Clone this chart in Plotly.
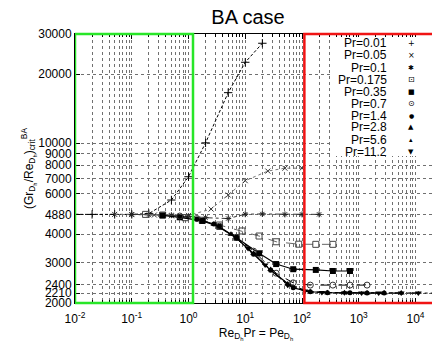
import plotly.graph_objects as go
import math

# ---------------- data ----------------
pr_labels = ["Pr=0.01", "Pr=0.05", "Pr=0.1", "Pr=0.175", "Pr=0.35",
             "Pr=0.7", "Pr=1.4", "Pr=2.8", "Pr=5.6", "Pr=11.2"]

pe_001 = [0.01, 0.02, 0.05, 0.1, 0.2, 0.5, 1, 2, 5, 10, 20]
g_001 = [4880, 4880, 4880, 4880, 4920, 5640, 7130, 10030, 16620, 22570, 27330]

pe_005 = [0.05, 0.1, 0.25, 0.5, 1, 2.5, 5, 10, 25, 50, 100]
g_005 = [4880, 4870, 4850, 4810, 4830, 5150, 5930, 6850, 7550, 7770, 7770]

pe_01 = [0.1, 0.2, 0.5, 1, 2, 5, 10, 20, 50, 100, 200]
g_01 = [4880, 4870, 4840, 4790, 4720, 4680, 4890, 4900, 4880, 4880, 4880]

pe_0175 = [0.175, 0.35, 0.875, 1.75, 3.5, 8.75, 17.5, 35, 87.5, 175, 350]
g_0175 = [4880, 4850, 4720, 4600, 4385, 4130, 3925, 3705, 3615, 3610, 3610]

pe_035 = [0.35, 0.7, 1.75, 3.5, 7, 17.5, 35, 70, 175, 350, 700]
g_035 = [4830, 4740, 4570, 4310, 3860, 3300, 2960, 2810, 2790, 2760, 2760]

pe_07 = [0.7, 1.4, 3.5, 7, 14, 35, 70, 140, 350, 700, 1400]
g_07 = [4800, 4680, 4330, 3880, 3370, 2700, 2450, 2395, 2395, 2395, 2395]

pe_14 = [1.4, 2.8, 7, 14, 28, 70, 140, 280, 700, 1400, 2800]
g_14 = [4660, 4430, 3850, 3270, 2780, 2330, 2240, 2220, 2215, 2212, 2210]

pe_28 = [2.8, 5.6, 14, 28, 56, 140, 280, 560, 1400, 2800, 5600]
g_28 = [4420, 4000, 3300, 2800, 2420, 2235, 2220, 2215, 2212, 2210, 2210]

pe_56 = [5.6, 11.2, 28, 56, 112, 280, 560, 1120, 2800, 5600, 11200]
g_56 = [3990, 3470, 2790, 2400, 2260, 2220, 2215, 2212, 2210, 2210, 2210]

pe_112 = [11.2, 22.4, 56, 112, 224, 560, 1120, 2240, 5600, 11200, 22400]
g_112 = [3460, 2930, 2390, 2255, 2222, 2215, 2212, 2210, 2210, 2210, 2210]

x_tickvals = [0.01, 0.1, 1, 10, 100, 1000, 10000]
x_ticktext = ["10<sup>-2</sup>", "10<sup>-1</sup>", "10<sup>0</sup>", "10<sup>1</sup>",
              "10<sup>2</sup>", "10<sup>3</sup>", "10<sup>4</sup>"]
y_tickvals = [2000, 2210, 2400, 3000, 4000, 4880, 6000, 7000, 8000, 9000, 10000, 20000, 30000]
y_ticktext = [str(v) for v in y_tickvals]

legend_symbols = ["+", "\u00d7", "\u2731", "\u22a1", "\u25a0", "\u2299", "\u25cf", "\u25b2", "\u25b4", "\u25bc"]
legend_sizes = [8, 8, 7, 8, 7, 8, 6, 7, 7, 7]

# ---------------- styles ----------------
xs = [pe_001, pe_005, pe_01, pe_0175, pe_035, pe_07, pe_14, pe_28, pe_56, pe_112]
ys = [g_001, g_005, g_01, g_0175, g_035, g_07, g_14, g_28, g_56, g_112]
markers = [
    dict(symbol="cross-thin", size=6, color="black", line=dict(width=1, color="black")),
    dict(symbol="x-thin", size=5, color="#333", line=dict(width=1, color="#333")),
    dict(symbol="asterisk", size=5, color="#222", line=dict(width=1, color="#222")),
    dict(symbol="square-open", size=6, color="#444", line=dict(width=1, color="#444")),
    dict(symbol="square", size=6, color="black"),
    dict(symbol="circle-open", size=6, color="#333", line=dict(width=1, color="#333")),
    dict(symbol="circle", size=5, color="black"),
    dict(symbol="triangle-up", size=6, color="black"),
    dict(symbol="triangle-up", size=4, color="black"),
    dict(symbol="triangle-down", size=6, color="black"),
]
lines = [
    dict(color="black", width=1, dash="3px,2px"),
    dict(color="#777", width=1, dash="dot"),
    dict(color="#333", width=1, dash="dashdot"),
    dict(color="#666", width=1, dash="dash"),
    dict(color="black", width=1.2, dash="solid"),
    dict(color="black", width=1, dash="dash"),
    dict(color="black", width=1.2, dash="solid"),
    dict(color="black", width=1, dash="dot"),
    dict(color="black", width=1, dash="dash"),
    dict(color="black", width=1, dash="dashdot"),
]

fig = go.Figure()
for name, x, y, m, l in zip(pr_labels, xs, ys, markers, lines):
    fig.add_trace(go.Scatter(x=x, y=y, mode="lines+markers", name=name,
                             marker=m, line=l, showlegend=False))

# ---------------- layout ----------------
# the page body has an 8px margin, so the figure is drawn 8px in from the window edge
OFF = 8
W, H = 440 - OFF, 342 - OFF
L, R, T, B = 75 - OFF, 3, 34 - OFF, 39
pw, ph = W - L - R, H - T - B
grid_col = "#707070"


def px_x(px):  # window pixel -> paper x
    return (px - OFF - L) / pw


def px_y(py):  # window pixel -> paper y
    return (H - B - (py - OFF)) / ph


fig.update_layout(
    width=W, height=H,
    margin=dict(l=L, r=R, t=T, b=B, autoexpand=False),
    paper_bgcolor="white", plot_bgcolor="white",
    font=dict(family="Liberation Sans, Arial, sans-serif", size=12, color="black"),
    title=dict(text="BA case", x=(248 - OFF) / W, xanchor="center", xref="container",
               y=1 - 1.5 / H, yanchor="top", yref="container", pad=dict(t=0, b=0),
               font=dict(size=20, family="Liberation Sans, Arial, sans-serif")),
    xaxis=dict(type="log", range=[-2, math.log10(2.39e4)], automargin=False,
               tickvals=x_tickvals, ticktext=x_ticktext,
               ticks="inside", ticklen=5, tickcolor="black", ticklabelstandoff=5,
               showline=True, linecolor="black", linewidth=1, mirror="ticks",
               showgrid=True, gridcolor=grid_col, griddash="dot", gridwidth=1,
               minor=dict(dtick="D1", showgrid=True, gridcolor=grid_col, griddash="dot",
                          ticks="inside", ticklen=3, tickcolor="black"),
               zeroline=False,
               title=dict(text="Re<sub>D<sub>h</sub></sub>Pr = Pe<sub>D<sub>h</sub></sub>",
                          standoff=10, font=dict(size=12))),
    yaxis=dict(type="log", range=[math.log10(2000), math.log10(30000)], automargin=False,
               tickvals=y_tickvals, ticktext=y_ticktext,
               ticks="inside", ticklen=5, tickcolor="black",
               showline=True, linecolor="black", linewidth=1, mirror="ticks",
               showgrid=True, gridcolor=grid_col, griddash="dot", gridwidth=1,
               zeroline=False,
               title=dict(text="(Gr<sub>D<sub>h</sub></sub>/Re<sub>D<sub>h</sub></sub>)<sub>crit</sub><sup>BA</sup>",
                          standoff=2, font=dict(size=12))),
)

# opaque key box
fig.add_shape(type="rect", xref="paper", yref="paper",
              x0=px_x(330), x1=1, y0=px_y(156), y1=px_y(37),
              fillcolor="white", line=dict(width=0), layer="above")

# highlighted regions
fig.add_shape(type="rect", xref="x", yref="paper", x0=0.01, x1=1.2, y0=0, y1=1,
              line=dict(color="rgb(40,230,40)", width=2.5), layer="above")
fig.add_shape(type="rect", xref="x", yref="paper", x0=110, x1=2.39e4, y0=0, y1=1,
              line=dict(color="rgb(240,20,20)", width=2.5), layer="above")

# key (gnuplot style: label right-aligned, symbol on the right)
row0, drow = 43.5, 12.0
for i, (lab, sym, ss) in enumerate(zip(pr_labels, legend_symbols, legend_sizes)):
    py = row0 + i * drow
    fig.add_annotation(x=px_x(387.7), y=px_y(py), xref="paper", yref="paper",
                       text=lab, showarrow=False, xanchor="right", yanchor="middle",
                       font=dict(size=12), borderpad=0)
    fig.add_annotation(x=px_x(411), y=px_y(py), xref="paper", yref="paper",
                       text=sym, showarrow=False, xanchor="center", yanchor="middle",
                       font=dict(size=ss, family="DejaVu Sans"), borderpad=0)

fig.write_html("out.html")
